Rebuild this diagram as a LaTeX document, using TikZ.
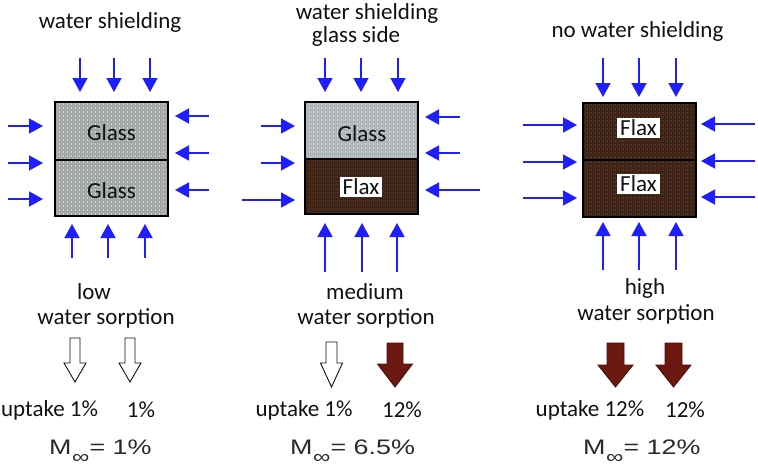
\documentclass[tikz,border=0pt]{standalone}
\usepackage{fontspec}
\usepackage{graphicx}
\setmainfont{Carlito}
\newfontfamily\mfont{Liberation Sans}
\usetikzlibrary{arrows.meta}
\definecolor{glassc}{HTML}{9EA3A3}
\definecolor{glassb}{HTML}{AAB2B4}
\definecolor{flaxc}{HTML}{3A2216}
\definecolor{flaxdot}{HTML}{7A5038}
\definecolor{wblue}{HTML}{1E1EFF}
\definecolor{brownarr}{HTML}{6A1810}
\definecolor{ink}{HTML}{111111}
\definecolor{mink}{HTML}{2A2A2A}
\tikzset{
  water/.style={wblue, line width=1.6pt, -{Triangle[length=14pt,width=15pt]}},
  lbl/.style={font=\fontsize{23}{26}\selectfont, text=ink, inner sep=0pt},
  flaxlbl/.style={lbl, fill=white, inner xsep=3pt, inner ysep=1.5pt},
  mlbl/.style={font=\mfont\fontsize{21}{24}\selectfont, text=mink, inner sep=0pt, anchor=base west},
  hollow/.style={draw=ink, fill=white, line width=0.9pt, line join=miter},
  solidbrown/.style={draw=brownarr!70!black, fill=brownarr, line width=0.9pt, line join=miter},
  frame/.style={draw=black, line width=1.8pt},
}
\newcommand\ply[6]{%
  \fill[#5] (#1,#2) rectangle (#3,#4);
  \begin{scope}
    \clip (#1,#2) rectangle (#3,#4);
    \draw[#6, opacity=0.18, line width=0.6pt]
      \foreach \k in {2,6,...,118} {(#1+\k,#2) -- (#1+\k,#4)};
    \draw[#6, opacity=0.55, line width=1.2pt, dash pattern=on 1.4pt off 2.6pt]
      \foreach \k in {2,6,...,62} {(#1,#2+\k) -- (#3,#2+\k)};
  \end{scope}}
\newcommand\fatarrow[7]{%
  \draw[#7] (#1-#5,#2) -- (#1+#5,#2) -- (#1+#5,#3) -- (#1+#6,#3) -- (#1,#4)
    -- (#1-#6,#3) -- (#1-#5,#3) -- cycle;}
\newcommand\minf[1]{\scalebox{1.28}[1]{M\kern0.5pt\raisebox{-9pt}[0pt][0pt]{\fontsize{19}{19}\selectfont ∞}= #1}}
\begin{document}
\begin{tikzpicture}[x=1pt,y=-1pt]
\useasboundingbox (0,0) rectangle (758,466);

% ---------- panel 1 ----------
\ply{55}{102}{168}{160}{glassc}{white}
\ply{55}{160}{168}{216}{glassc}{white}
\draw[frame] (55,102) rectangle (168,216);
\draw[frame] (55,160) -- (168,160);
\node[lbl] (g1a) at (111.5,133) {Glass};
\node[lbl] (g1b) at (111.5,191) {Glass};
\node[lbl] (t1) at (110,22) {water shielding};
\foreach \x in {80,114,150} \draw[water] (\x,58) -- (\x,92);
\foreach \x in {72,108,145} \draw[water] (\x,258) -- (\x,224);
\foreach \y in {126,163,199} \draw[water] (8,\y) -- (43,\y);
\foreach \y in {116,153,190} \draw[water] (209,\y) -- (175,\y);

% ---------- panel 2 ----------
\ply{305}{102}{418}{159}{glassb}{white}
\ply{305}{159}{418}{214}{flaxc}{flaxdot}
\draw[frame] (305,102) rectangle (418,214);
\draw[frame] (305,159) -- (418,159);
\node[lbl] (g2) at (362,134) {Glass};
\node[flaxlbl] (f2) at (361,187) {Flax};
\node[lbl] (t2a) at (367,13) {water shielding};
\node[lbl] (t2b) at (356,36) {glass side};
\foreach \x in {325,361,398} \draw[water] (\x,58) -- (\x,92);
\foreach \x in {325,362,397} \draw[water] (\x,272) -- (\x,223);
\draw[water] (261,126) -- (295,126);
\draw[water] (261,163) -- (295,163);
\draw[water] (242,200) -- (295,200);
\draw[water] (460,117) -- (425,117);
\draw[water] (460,153) -- (425,153);
\draw[water] (480,190) -- (425,190);

% ---------- panel 3 ----------
\ply{583}{103}{696}{160}{flaxc}{flaxdot}
\ply{583}{160}{696}{217}{flaxc}{flaxdot}
\draw[frame] (583,103) rectangle (696,217);
\draw[frame] (583,160) -- (696,160);
\node[flaxlbl] (f3a) at (638.5,128) {Flax};
\node[flaxlbl] (f3b) at (638.5,184) {Flax};
\node[lbl] (t3) at (637.5,31) {no water shielding};
\foreach \x in {603,639,676} \draw[water] (\x,58) -- (\x,97);
\foreach \x in {603,639,676} \draw[water] (\x,270) -- (\x,222);
\foreach \y in {125,162,198} \draw[water] (523,\y) -- (577,\y);
\foreach \y in {124,161,197} \draw[water] (755,\y) -- (701,\y);

% ---------- lower row ----------
\node[lbl] (s1a) at (94,292) {low};
\node[lbl] (s1b) at (106,318) {water sorption};
\node[lbl] (s2a) at (365,292) {medium};
\node[lbl] (s2b) at (366,318) {water sorption};
\node[lbl] (s3a) at (645,288) {high};
\node[lbl] (s3b) at (646,314) {water sorption};

\fatarrow{75}{338}{363}{382}{5}{11}{hollow}
\fatarrow{130}{338}{363}{382}{5}{11}{hollow}
\fatarrow{331.5}{342}{363}{387}{5.5}{11}{hollow}
\fatarrow{395}{343}{364}{387}{8}{17.5}{solidbrown}
\fatarrow{615.5}{343}{365}{387}{8.5}{17.5}{solidbrown}
\fatarrow{673.5}{343}{365}{387}{8.5}{17.5}{solidbrown}

\node[lbl] (u1a) at (49.5,410) {uptake 1\%};
\node[lbl] (u1b) at (141,410) {1\%};
\node[lbl] (u2a) at (304,410) {uptake 1\%};
\node[lbl] (u2b) at (402,410) {12\%};
\node[lbl] (u3a) at (590,410) {uptake 12\%};
\node[lbl] (u3b) at (685,410) {12\%};

\node[mlbl] (m1) at (49,454) {\minf{1\%}};
\node[mlbl] (m2) at (290,454) {\minf{6.5\%}};
\node[mlbl] (m3) at (583,454) {\minf{12\%}};
\end{tikzpicture}
\end{document}
